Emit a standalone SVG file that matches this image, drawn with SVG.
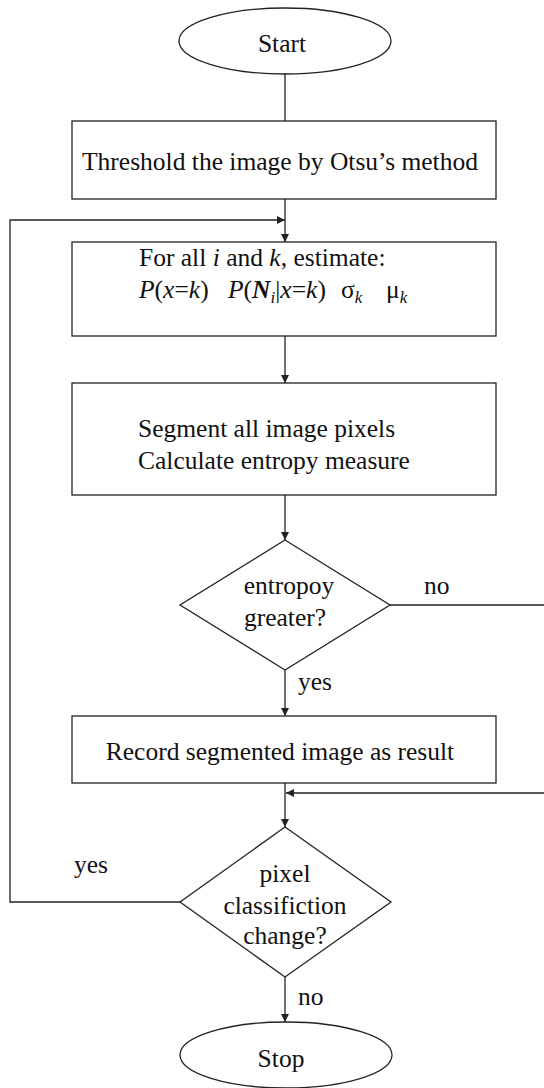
<svg xmlns="http://www.w3.org/2000/svg" width="544" height="1088" viewBox="0 0 544 1088">
<defs>
<style>
.s{fill:#fff;stroke:#222;stroke-width:1.3}
.c{fill:none;stroke:#222;stroke-width:1.3}
text{font-family:"Liberation Serif","Times New Roman",serif;font-size:25.5px;fill:#111}
.m{text-anchor:middle}
.i{font-style:italic}
.b{font-weight:bold;font-style:italic}
.sub{font-size:17px;font-style:italic}
</style>
<marker id="ah" viewBox="0 0 10 10" refX="10" refY="5" markerWidth="8" markerHeight="8" markerUnits="userSpaceOnUse" orient="auto">
<path d="M0,0 L10,5 L0,10 z" fill="#222"/>
</marker>
</defs>
<rect width="544" height="1088" fill="#fff"/>
<g id="connectors">
<line class="c" x1="285" y1="74" x2="285" y2="121"/>
<line class="c" x1="285" y1="199" x2="285" y2="242" marker-end="url(#ah)"/>
<path class="c" d="M180,902 H10 V220 H285" marker-end="url(#ah)"/>
<line class="c" x1="285" y1="336" x2="285" y2="383" marker-end="url(#ah)"/>
<line class="c" x1="285" y1="495" x2="285" y2="540" marker-end="url(#ah)"/>
<path class="c" d="M390,605 H548 V793 H286" marker-end="url(#ah)"/>
<line class="c" x1="285" y1="670" x2="285" y2="716" marker-end="url(#ah)"/>
<line class="c" x1="285" y1="783" x2="285" y2="827" marker-end="url(#ah)"/>
<line class="c" x1="285" y1="977" x2="285" y2="1022" marker-end="url(#ah)"/>
</g>
<g id="start">
<ellipse class="s" cx="285" cy="41" rx="106" ry="33"/>
<text class="m" x="282" y="52">Start</text>
</g>
<g id="threshold">
<rect class="s" x="72" y="121" width="424" height="78"/>
<text class="m" x="280" y="170">Threshold the image by Otsu’s method</text>
</g>
<g id="estimate">
<rect class="s" x="72" y="242" width="424" height="94"/>
<text x="139" y="266">For all <tspan class="i">i</tspan> and <tspan class="i">k</tspan>, estimate:</text>
<text y="298"><tspan x="139" class="i">P</tspan>(<tspan class="i">x</tspan>=<tspan class="i">k</tspan>)<tspan x="228" class="i">P</tspan>(<tspan class="b">N</tspan><tspan class="sub" dy="5">i</tspan><tspan dy="-5">|</tspan><tspan class="i">x</tspan>=<tspan class="i">k</tspan>)<tspan x="341">σ</tspan><tspan class="sub" dy="5">k</tspan><tspan x="386" dy="-5">μ</tspan><tspan class="sub" dy="5">k</tspan></text>
</g>
<g id="segment">
<rect class="s" x="72" y="383" width="424" height="112"/>
<text x="138" y="437">Segment all image pixels</text>
<text x="138" y="469">Calculate entropy measure</text>
</g>
<g id="entropy-decision">
<polygon class="s" points="285,540 390,605 285,670 180,605"/>
<text class="m" x="289" y="594">entropoy</text>
<text class="m" x="285" y="626">greater?</text>
<text x="424" y="594">no</text>
<text x="298" y="690">yes</text>
</g>
<g id="record">
<rect class="s" x="72" y="716" width="424" height="67"/>
<text class="m" x="280" y="760">Record segmented image as result</text>
</g>
<g id="change-decision">
<polygon class="s" points="285,827 391,902 285,977 180,902"/>
<text class="m" x="285" y="882">pixel</text>
<text class="m" x="285" y="914">classifiction</text>
<text class="m" x="285" y="944">change?</text>
<text x="74" y="873">yes</text>
<text x="298" y="1005">no</text>
</g>
<g id="stop">
<ellipse class="s" cx="286" cy="1055" rx="106" ry="33"/>
<text class="m" x="281" y="1067">Stop</text>
</g>
</svg>
